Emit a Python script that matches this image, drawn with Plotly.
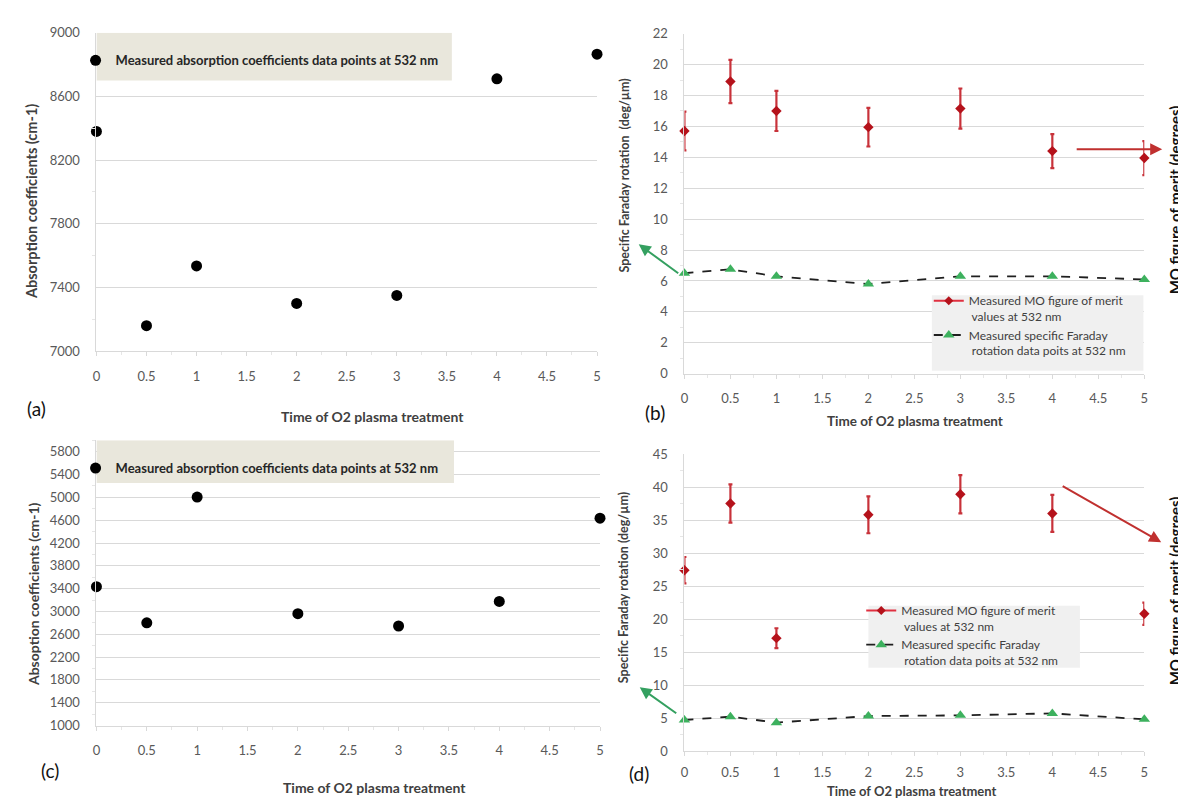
import plotly.graph_objects as go

W, H = 1186, 800

# ---------------- data ----------------
time_pts = [0, 0.5, 1, 2, 3, 4, 5]

absorb_a = [8380, 7160, 7535, 7300, 7350, 8710, 8865]
absorb_c = [3435, 2800, 5005, 2960, 2745, 3175, 4635]

fom_b = [15.7, 18.9, 17.0, 15.95, 17.15, 14.4, 13.95]
fom_err_b = [1.25, 1.4, 1.3, 1.25, 1.3, 1.1, 1.1]
far_b = [6.5, 6.75, 6.3, 5.8, 6.3, 6.3, 6.1]

fom_d = [27.4, 37.5, 17.1, 35.8, 38.9, 36.0, 20.8]
fom_err_d = [2.0, 2.9, 1.5, 2.8, 2.9, 2.8, 1.7]
far_d = [4.7, 5.2, 4.3, 5.3, 5.4, 5.7, 4.8]

x_ticks = [0, 0.5, 1, 1.5, 2, 2.5, 3, 3.5, 4, 4.5, 5]
x_ticktext = ["0", "0.5", "1", "1.5", "2", "2.5", "3", "3.5", "4", "4.5", "5"]

leg_abs = "Measured absorption coefficients data points at 532 nm"
leg_fom = "Measured MO figure of merit<br> values at 532 nm"
leg_far = "Measured specific Faraday<br> rotation data poits at 532 nm"
x_title = "Time of O2 plasma treatment"

# ---------------- helpers ----------------
def px(x):
    return x / W

def py(y):
    return 1 - y / H

FONT = "Lato, 'Open Sans', sans-serif"
TICK_COLOR = "#595959"
GRID = "#d9d9d9"
RED_MARK = "#b5121b"
RED_BAR = "#c8323a"
GREEN = "#3db15e"

fig = go.Figure()

# (a)
fig.add_trace(go.Scatter(
    x=time_pts, y=absorb_a, mode="markers", name=leg_abs,
    marker=dict(color="black", size=11), xaxis="x", yaxis="y",
    legend="legend", cliponaxis=False))
# (b)
fig.add_trace(go.Scatter(
    x=[None], y=[None], mode="lines+markers", name=leg_fom,
    line=dict(color="#e03040", width=2),
    marker=dict(symbol="diamond", color=RED_MARK, size=7),
    xaxis="x2", yaxis="y2", legend="legend2"))
fig.add_trace(go.Scatter(
    x=time_pts, y=fom_b, mode="markers", showlegend=False,
    marker=dict(symbol="diamond", color=RED_MARK, size=8),
    error_y=dict(type="data", array=fom_err_b, color=RED_BAR, thickness=2.2, width=2),
    xaxis="x2", yaxis="y2", cliponaxis=False))
fig.add_trace(go.Scatter(
    x=time_pts, y=far_b, mode="lines+markers", name=leg_far,
    line=dict(color="#1f1f1f", width=1.8, dash="dash"),
    marker=dict(symbol="triangle-up", color=GREEN, size=10),
    xaxis="x2", yaxis="y2", legend="legend2", cliponaxis=False))
# (c)
fig.add_trace(go.Scatter(
    x=time_pts, y=absorb_c, mode="markers", name=leg_abs,
    marker=dict(color="black", size=11), xaxis="x3", yaxis="y3",
    legend="legend3", cliponaxis=False))
# (d)
fig.add_trace(go.Scatter(
    x=[None], y=[None], mode="lines+markers", name=leg_fom,
    line=dict(color="#e03040", width=2),
    marker=dict(symbol="diamond", color=RED_MARK, size=7),
    xaxis="x4", yaxis="y4", legend="legend4"))
fig.add_trace(go.Scatter(
    x=time_pts, y=fom_d, mode="markers", showlegend=False,
    marker=dict(symbol="diamond", color=RED_MARK, size=8),
    error_y=dict(type="data", array=fom_err_d, color=RED_BAR, thickness=2.2, width=2),
    xaxis="x4", yaxis="y4", cliponaxis=False))
fig.add_trace(go.Scatter(
    x=time_pts, y=far_d, mode="lines+markers", name=leg_far,
    line=dict(color="#1f1f1f", width=1.8, dash="dash"),
    marker=dict(symbol="triangle-up", color=GREEN, size=10),
    xaxis="x4", yaxis="y4", legend="legend4", cliponaxis=False))


def xaxis_cfg(x0, x1, anchor, standoff=9):
    return dict(
        domain=[px(x0), px(x1)], anchor=anchor, range=[0, 5],
        tickmode="array", tickvals=x_ticks, ticktext=x_ticktext,
        showgrid=False, zeroline=False, showline=True, linecolor=GRID, linewidth=1,
        ticks="outside", ticklen=4, tickcolor=GRID,
        ticklabelstandoff=standoff,
        minor=dict(ticks="outside", ticklen=3, tickcolor="#e6e6e6", dtick=0.25),
        tickfont=dict(family=FONT, size=13, color=TICK_COLOR))


def yaxis_cfg(y0, y1, anchor, rng, tick0, dtick):
    return dict(
        domain=[py(y0), py(y1)], anchor=anchor, range=rng,
        tick0=tick0, dtick=dtick, showgrid=True, gridcolor=GRID, gridwidth=1,
        zeroline=False, showline=True, linecolor=GRID, linewidth=1,
        ticks="", ticklabelstandoff=13,
        minor=dict(ticks="outside", ticklen=3, tickcolor="#e6e6e6", dtick=dtick / 2, showgrid=False),
        tickfont=dict(family=FONT, size=13, color=TICK_COLOR))


fig.update_layout(
    width=W, height=H, margin=dict(l=0, r=0, t=0, b=0),
    paper_bgcolor="white", plot_bgcolor="white",
    font=dict(family=FONT, color="#404040"),
    xaxis=xaxis_cfg(85, 589, "y"),
    yaxis=yaxis_cfg(342, 17, "x", [7000, 9000], 7000, 400),
    xaxis2=xaxis_cfg(677, 1140, "y2"),
    yaxis2=yaxis_cfg(365, 18, "x2", [0, 22], 0, 2),
    xaxis3=xaxis_cfg(85, 592, "y3"),
    yaxis3=yaxis_cfg(724, 433, "x3", [1000, 6000], 1000, 400),
    xaxis4=xaxis_cfg(677, 1140, "y4", standoff=5),
    yaxis4=yaxis_cfg(750, 447, "x4", [0, 45], 0, 5),
    legend=dict(x=px(64), y=py(30), xanchor="left", yanchor="top",
                bgcolor="rgba(0,0,0,0)", itemwidth=30,
                font=dict(family=FONT, size=13, color="#262626", weight="bold")),
    legend2=dict(x=px(923), y=py(276), xanchor="left", yanchor="top",
                 bgcolor="rgba(0,0,0,0)", itemwidth=30, valign="top",
                 font=dict(family=FONT, size=12, color="#404040")),
    legend3=dict(x=px(64), y=py(446), xanchor="left", yanchor="top",
                 bgcolor="rgba(0,0,0,0)", itemwidth=30,
                 font=dict(family=FONT, size=13, color="#262626", weight="bold")),
    legend4=dict(x=px(855), y=py(592), xanchor="left", yanchor="top",
                 bgcolor="rgba(0,0,0,0)", itemwidth=30, valign="top",
                 font=dict(family=FONT, size=12, color="#404040")),
)

# legend background boxes
shapes = [
    dict(type="rect", xref="x", yref="y", x0=0, x1=3.55, y0=8700, y1=9000,
         fillcolor="#e9e7dc", line=dict(width=0), layer="between"),
    dict(type="rect", xref="x3", yref="y3", x0=0, x1=3.55, y0=5250, y1=6000,
         fillcolor="#e9e7dc", line=dict(width=0), layer="between"),
    dict(type="rect", xref="x2", yref="y2", x0=2.69, x1=4.99, y0=0.19, y1=5.07,
         fillcolor="#f0f0f0", line=dict(width=0), layer="between"),
    dict(type="rect", xref="x4", yref="y4", x0=2.0, x1=4.3, y0=12.6, y1=22.0,
         fillcolor="#f0f0f0", line=dict(width=0), layer="between"),
]
fig.update_layout(shapes=shapes)

ann = []
# x titles
for (cx, cy, fs) in [(363, 409, 14), (909, 413, 13.5), (365, 787, 14), (906, 791, 13)]:
    ann.append(dict(text=x_title, x=px(cx), y=py(cy), xref="paper", yref="paper",
                    showarrow=False, xanchor="center", yanchor="middle",
                    font=dict(family=FONT, size=fs, color="#404040", weight="bold")))
# y titles
ytitles = [
    ("Absorption coefficients (cm-1)", 19, 189, 14.5, "#404040"),
    ("Absoption coefficients (cm-1)", 21, 590, 14, "#404040"),
    ("Specific Faraday rotation  (deg/µm)", 617, 163, 12.5, "#404040"),
    ("Specific Faraday rotation (deg/µm)", 615, 583, 12.5, "#404040"),
    ("MO figure of merit (degrees)", 1171, 188, 15, "#111111"),
    ("MO figure of merit (degrees)", 1171, 587, 15, "#111111"),
]
for txt, cx, cy, fs, col in ytitles:
    ann.append(dict(text=txt, x=px(cx), y=py(cy), xref="paper", yref="paper",
                    textangle=-90, showarrow=False, xanchor="center", yanchor="middle",
                    font=dict(family=FONT, size=fs, color=col, weight="bold")))
# panel labels
for lab, cx, cy in [("(a)", 25, 401), ("(b)", 647, 405), ("(c)", 38, 770), ("(d)", 631, 773)]:
    ann.append(dict(text=lab, x=px(cx), y=py(cy), xref="paper", yref="paper", showarrow=False,
                    xanchor="center", yanchor="middle",
                    font=dict(family=FONT, size=19, color="#111111")))
# arrows
for hx, hy, tx, ty, col in [(631, 233, 672, 263, "#34a060"), (1158, 136, 1071, 136, "#c0302f"),
                            (632, 685, 670, 712, "#34a060"), (1157, 537, 1057, 480, "#c0302f")]:
    ann.append(dict(text="", x=px(hx), y=py(hy), xref="paper", yref="paper",
                    ax=tx - hx, ay=ty - hy, showarrow=True, arrowhead=2, arrowsize=1.2,
                    arrowwidth=2, arrowcolor=col))
fig.update_layout(annotations=ann)

fig.write_html("out.html")
